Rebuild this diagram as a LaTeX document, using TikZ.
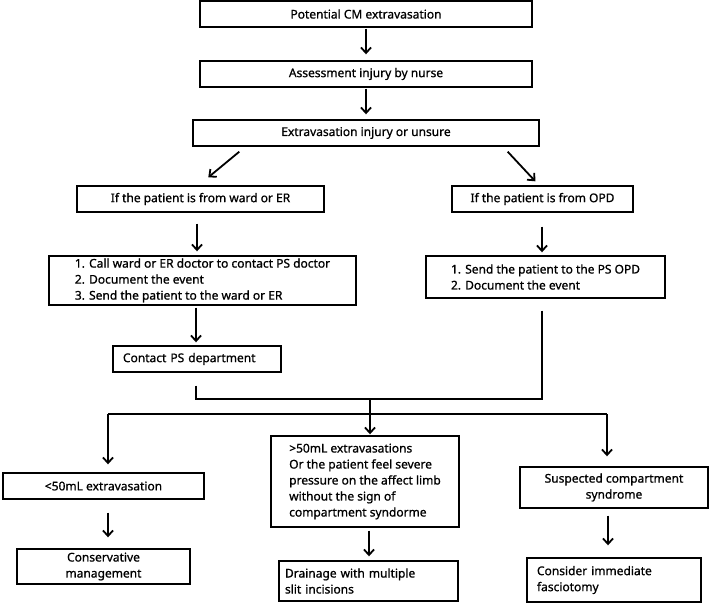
\documentclass[tikz,border=0pt]{standalone}
\usepackage{fontspec}
\setmainfont{Noto Sans}
\newfontfamily\boxfont{Noto Sans}[FakeBold=0.9]
\usepackage{tikz}
\usetikzlibrary{arrows.meta}
\usetikzlibrary{calc}
\usetikzlibrary{positioning}

\begin{document}
\begin{tikzpicture}[x=1pt, y=-1pt, box/.style={draw, rectangle, line width=1.4pt, inner sep=0pt, font=\boxfont\fontsize{12}{16}\selectfont}, arr/.style={line width=1.8pt, -{Straight Barb[length=5.5pt, width=10pt, line width=1.8pt]}}, joint/.style={line width=1.8pt}]
\useasboundingbox (0,0) rectangle (709,604);
\node[box, minimum width=332pt, minimum height=26pt] (Pot) at (366,14) {Potential CM extravasation};
\node[box, minimum width=332pt, minimum height=26pt] (Assess) at (366,74) {Assessment injury by nurse};
\node[box, minimum width=346pt, minimum height=26pt] (Unsure) at (366,133) {Extravasation injury or unsure};
\node[box, minimum width=247pt, minimum height=26pt] (Ward) at (200.5,199) {If the patient is from ward or ER};
\node[box, minimum width=181pt, minimum height=26pt] (Opd) at (542.5,199) {If the patient is from OPD};
\node[box, minimum width=307pt, minimum height=49pt, align=left] (WardAct) at (202.5,280.5) {1. Call ward or ER doctor to contact PS doctor\\2. Document the event\\3. Send the patient to the ward or ER};
\node[box, minimum width=239pt, minimum height=42pt, align=left] (OpdAct) at (545.5,277) {1. Send the patient to the PS OPD\\2. Document the event};
\node[box, text width=148pt, inner xsep=10pt, minimum height=26pt, align=left] (Contact) at (197,359) {Contact PS department};
\node[box, minimum width=201pt, minimum height=26pt] (Less) at (103.5,486) {<50mL extravasation};
\node[box, minimum width=173pt, minimum height=35pt, align=center] (Cons) at (103.5,566.5) {Conservative\\management};
\node[box, minimum width=188pt, minimum height=91pt, align=left] (More) at (365,481.5) {>50mL extravasations\\Or the patient feel severe\\pressure on the affect limb\\without the sign of\\compartment syndorme};
\node[box, text width=167pt, inner xsep=6pt, minimum height=40pt, align=left] (Drain) at (368.5,581) {Drainage with multiple\\slit incisions};
\node[box, minimum width=188pt, minimum height=41pt, align=center] (Susp) at (614,487.5) {Suspected compartment\\syndrome};
\node[box, text width=154pt, inner xsep=10pt, minimum height=44pt, align=left] (Consider) at (614,580) {Consider immediate\\fasciotomy};
\coordinate (J1) at (370,399);
\coordinate (J2) at (370,414);
\coordinate (JL) at (108,414);
\coordinate (JR) at (607,414);
\draw[arr, shorten <=1pt, shorten >=6pt] (Pot) -- (Assess);
\draw[arr, shorten <=1pt, shorten >=5pt] (Assess) -- (Unsure);
\draw[arr] ([xshift=47pt, yshift=-5pt]Unsure.south west) -- ([xshift=132pt, yshift=8pt]Ward.north west);
\draw[arr] ([xshift=-32pt, yshift=-5pt]Unsure.south east) -- ([xshift=84pt, yshift=4pt]Opd.north west);
\draw[arr] ([xshift=-3.5pt, yshift=-11pt]Ward.south) -- ([xshift=-5.5pt, yshift=4pt]WardAct.north);
\draw[arr] ([xshift=-0.5pt, yshift=-14pt]Opd.south) -- ([xshift=-3.5pt, yshift=3pt]OpdAct.north);
\draw[arr] ([xshift=-6.5pt, yshift=-2pt]WardAct.south) -- ([xshift=-1pt, yshift=3pt]Contact.north);
\draw[joint] ([xshift=-1pt, yshift=-13pt]Contact.south) |- (J1);
\draw[joint] ([xshift=-3.5pt, yshift=-12pt]OpdAct.south) |- (J1);
\draw[joint] (J1) -- (J2);
\draw[joint] (JL) -- (JR);
\draw[arr, shorten >=1pt] (J2) -- (J2 |- More.north);
\draw[arr, shorten >=8pt] (JL) -- (JL |- Less.north);
\draw[arr, shorten >=10pt] (JR) -- (JR |- Susp.north);
\draw[arr] ([xshift=4.5pt, yshift=-13pt]Less.south) -- ([xshift=4.5pt, yshift=11pt]Cons.north);
\draw[arr] ([xshift=4pt, yshift=-3pt]More.south) -- ([xshift=0.5pt, yshift=4pt]Drain.north);
\draw[arr] ([xshift=-6pt, yshift=-7pt]Susp.south) -- ([xshift=-6pt, yshift=12pt]Consider.north);
\end{tikzpicture}
\end{document}
